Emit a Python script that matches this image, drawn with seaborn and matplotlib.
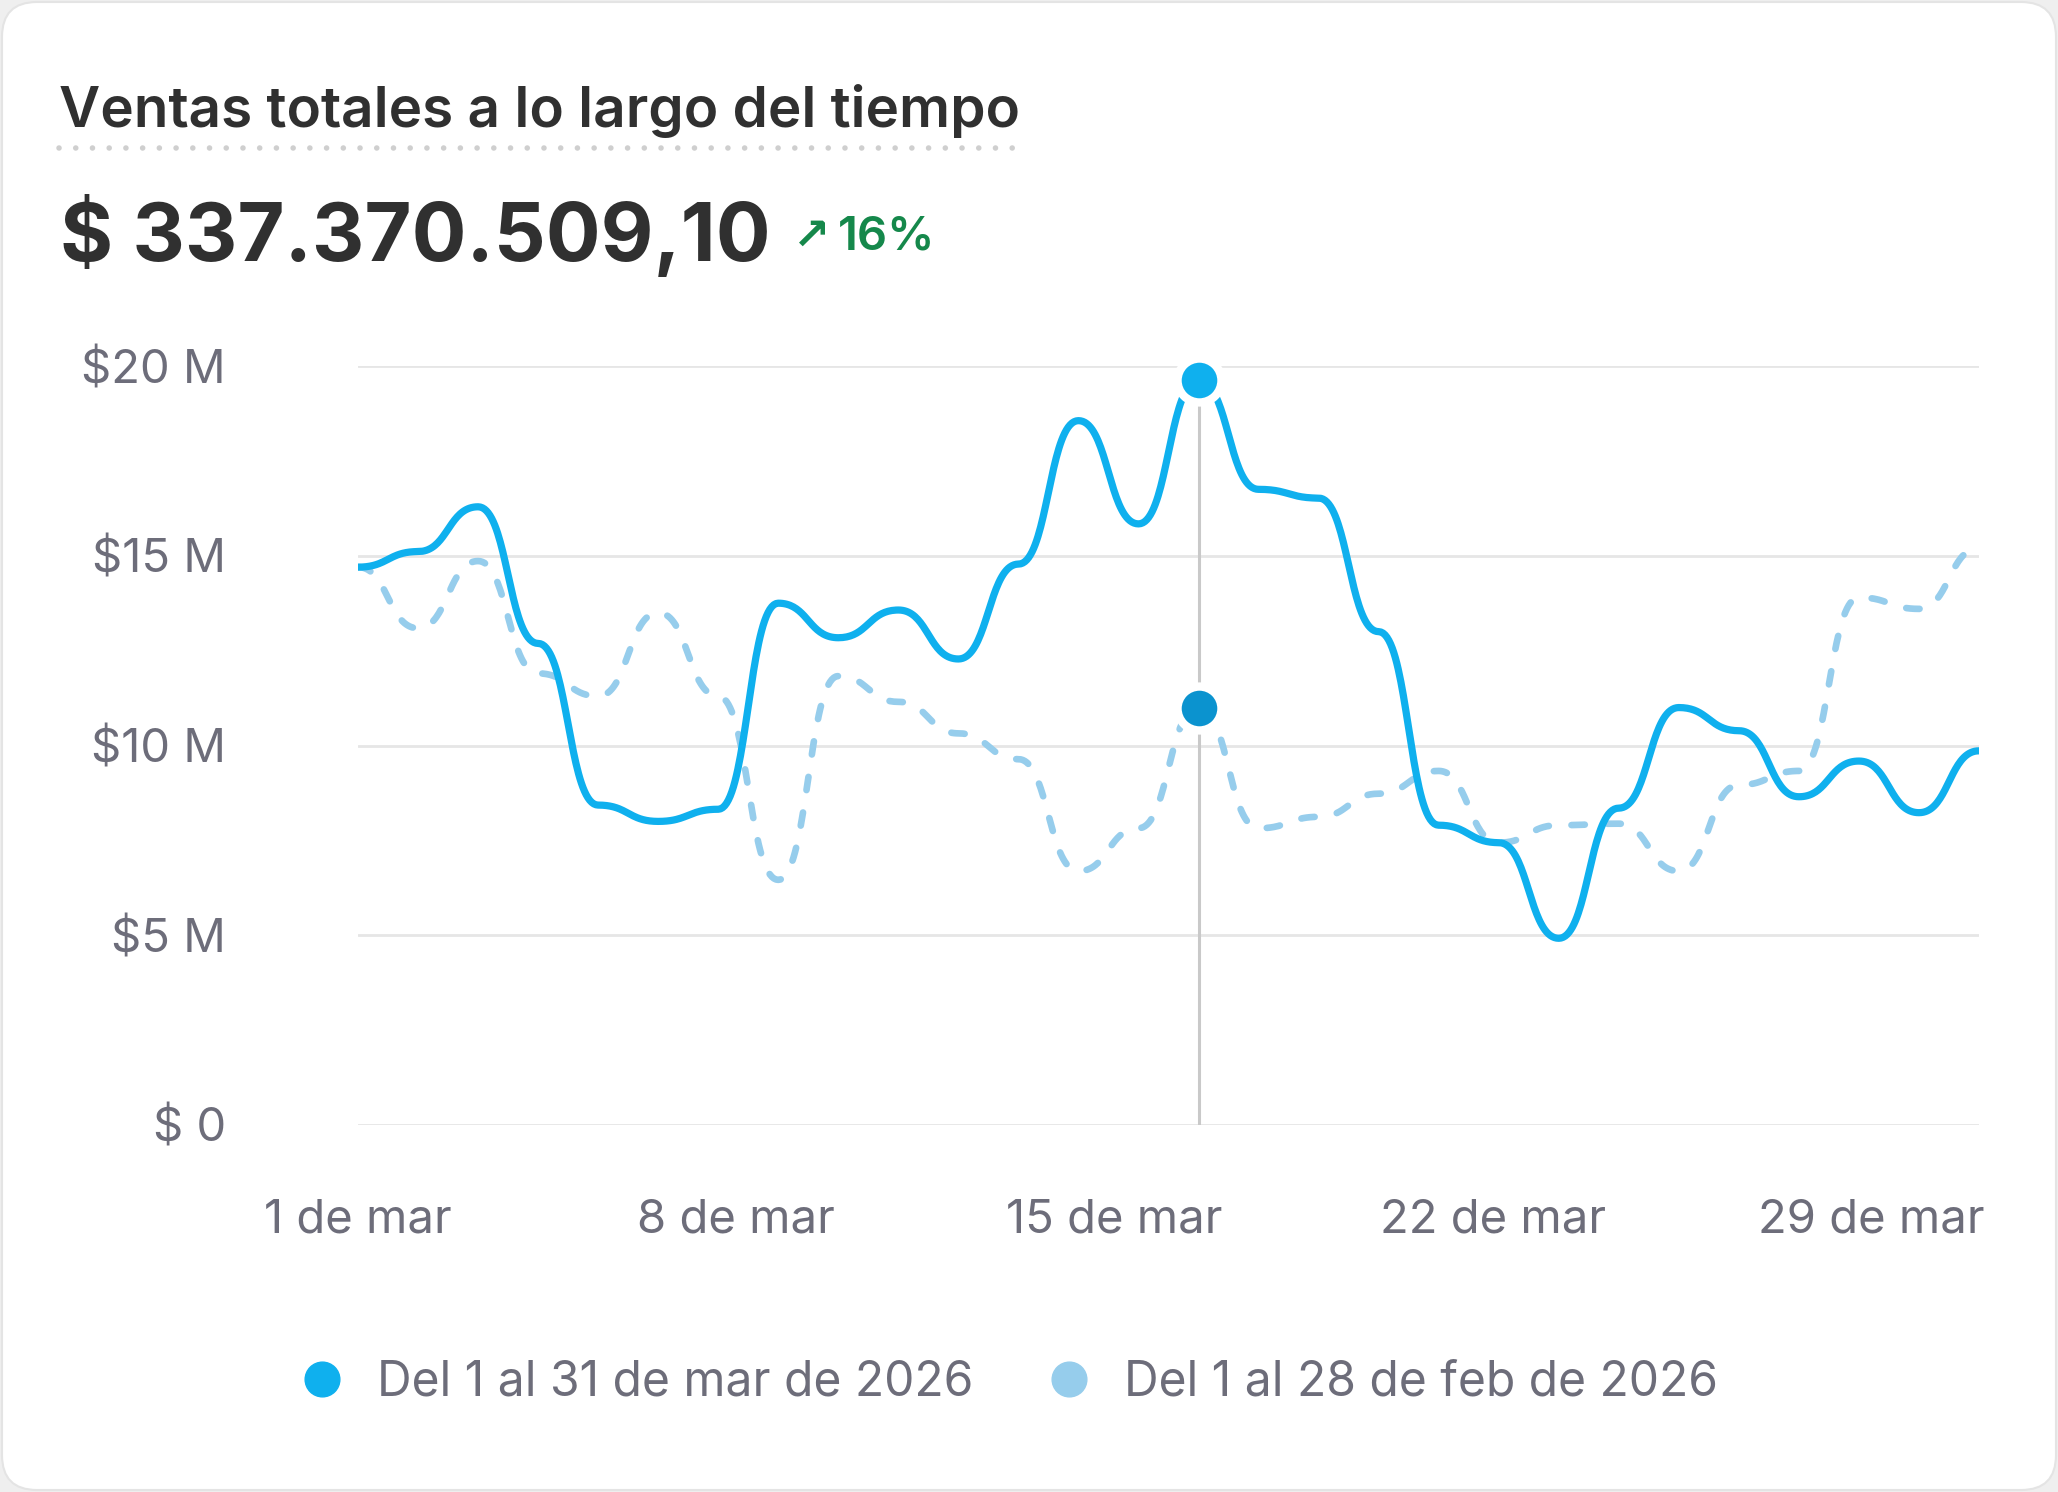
import numpy as np
import pandas as pd
import matplotlib
matplotlib.use("Agg")
import matplotlib.pyplot as plt
from matplotlib.lines import Line2D
from matplotlib.patches import FancyBboxPatch
import seaborn as sns

# values in millions (28 points each)
ventas_mar = [14.70, 15.11, 16.29, 12.69, 8.43, 8.00, 8.32, 13.75, 12.84, 13.57,
              12.28, 14.78, 18.56, 15.84, 19.62, 16.75, 16.52, 13.00, 7.90, 7.44,
              4.92, 8.35, 11.00, 10.39, 8.65, 9.59, 8.23, 9.86]
ventas_feb = [14.70, 13.09, 14.86, 11.90, 11.30, 13.50, 11.30, 6.46, 11.83, 11.15,
              10.32, 9.64, 6.69, 7.82, 11.00, 7.82, 8.12, 8.73, 9.33, 7.44,
              7.90, 7.94, 6.69, 8.96, 9.33, 13.90, 13.60, 15.20]
tick_days = [1, 8, 15, 22, 29]
tick_labels = ["1 de mar", "8 de mar", "15 de mar", "22 de mar", "29 de mar"]
y_ticks = [0, 5, 10, 15, 20]
y_labels = ["$ 0", "$5 M", "$10 M", "$15 M", "$20 M"]
serie_labels = ["Del 1 al 31 de mar de 2026", "Del 1 al 28 de feb de 2026"]
total = "$ 337.370.509,10"
cambio = "16%"
hover_idx = 14

C_MAR = "#0fb0ee"
C_FEB = "#96cdec"
C_HOVER_FEB = "#0b93cf"
GRAY = "#6d6d7a"


def bump(xs, ys, n=40):
    # horizontal-tangent bezier between points (like d3 curveBumpX)
    bx, by = [xs[0]], [ys[0]]
    t = np.linspace(0, 1, n)[1:]
    for x0, x1, y0, y1 in zip(xs[:-1], xs[1:], ys[:-1], ys[1:]):
        xm = (x0 + x1) / 2
        bx.extend((1 - t) ** 3 * x0 + 3 * (1 - t) ** 2 * t * xm + 3 * (1 - t) * t ** 2 * xm + t ** 3 * x1)
        by.extend((1 - t) ** 3 * y0 + 3 * (1 - t) ** 2 * t * y0 + 3 * (1 - t) * t ** 2 * y1 + t ** 3 * y1)
    return np.array(bx), np.array(by)


sns.set_theme(style="white")
plt.rcParams["font.family"] = ["Inter", "DejaVu Sans"]

W, H = 2058, 1492
fig = plt.figure(figsize=(W / 100, H / 100), dpi=100)
fig.patch.set_facecolor("#efefef")
card = FancyBboxPatch((0.02, 0.02), W / 100 - 0.04, H / 100 - 0.04,
                      boxstyle="round,pad=0,rounding_size=0.35",
                      transform=fig.dpi_scale_trans, facecolor="white",
                      edgecolor="#e4e4e4", linewidth=1.5, zorder=-10)
fig.patches.append(card)

ax = fig.add_axes([358 / W, 1 - 1125 / H, (1979 - 358) / W, (1125 - 366) / H])
ax.set_facecolor("none")
ax.set_zorder(2)

x = np.arange(len(ventas_mar))
fx, fy = bump(x, np.array(ventas_feb))
mx, my = bump(x, np.array(ventas_mar))
df_feb = pd.DataFrame({"x": fx, "y": fy})
df_mar = pd.DataFrame({"x": mx, "y": my})

sns.lineplot(data=df_feb, x="x", y="y", sort=False, estimator=None, ax=ax,
             color=C_FEB, linewidth=4.8, linestyle=(0, (2.0, 3.4)),
             dash_capstyle="round", zorder=3)
sns.lineplot(data=df_mar, x="x", y="y", sort=False, estimator=None, ax=ax,
             color=C_MAR, linewidth=5.2, solid_capstyle="round", zorder=4)

# hover guide
ax.vlines(hover_idx, 0, ventas_mar[hover_idx], color="#c9c9c9", linewidth=2.2, zorder=2)
ax.scatter([hover_idx], [ventas_feb[hover_idx]], s=1000, color=C_HOVER_FEB,
           edgecolor="white", linewidth=6, zorder=6, clip_on=False)
ax.scatter([hover_idx], [ventas_mar[hover_idx]], s=1000, color=C_MAR,
           edgecolor="white", linewidth=6, zorder=6, clip_on=False)

ax.set_xlim(0, len(ventas_mar) - 1)
ax.set_ylim(0, 20)
ax.set_yticks(y_ticks)
ax.set_yticklabels(y_labels)
ax.set_xticks([(d - 1) * (len(ventas_mar) - 1) / 30 for d in tick_days])
ax.set_xticklabels(tick_labels)
ax.grid(axis="y", color="#e6e6e6", linewidth=2.0)
ax.grid(axis="x", visible=False)
ax.tick_params(axis="y", length=0, pad=95, labelsize=34, labelcolor=GRAY)
ax.tick_params(axis="x", length=0, pad=53, labelsize=34, labelcolor=GRAY)
for lab in ax.get_yticklabels():
    lab.set_horizontalalignment("right")
ax.set_xlabel("")
ax.set_ylabel("")
sns.despine(ax=ax, left=True, bottom=True)

# header
fig.text(59 / W, 1 - 127 / H, "Ventas totales a lo largo del tiempo", fontsize=40.8,
         fontweight="semibold", color="#303030", ha="left", va="baseline")
fig.add_artist(Line2D([59 / W, 1017 / W], [1 - 148 / H, 1 - 148 / H],
                      transform=fig.transFigure, color="#cfcfcf", linewidth=4,
                      linestyle=(0, (0.01, 3.0)), dash_capstyle="round"))
fig.text(60 / W, 1 - 261 / H, total, fontsize=58.5, fontweight="bold",
         color="#303030", ha="left", va="baseline")
fig.text(793 / W, 1 - 249 / H, "↗", fontsize=32, fontweight="bold",
         color="#15884b", ha="left", va="baseline", family=["DejaVu Sans"])
fig.text(838 / W, 1 - 249 / H, cambio, fontsize=34, fontweight="semibold",
         color="#15884b", ha="left", va="baseline")

# legend
handles = [Line2D([], [], marker="o", linestyle="none", markersize=25,
                  markerfacecolor=c, markeredgecolor=c) for c in (C_MAR, C_FEB)]
fig.legend(handles, serie_labels, loc="center", bbox_to_anchor=(1008 / W, 1 - 1383 / H),
           ncol=2, frameon=False, fontsize=34.5, labelcolor=GRAY,
           handletextpad=0.65, columnspacing=1.5, handlelength=1.0)

fig.savefig("out.png", dpi=100, facecolor=fig.get_facecolor())
